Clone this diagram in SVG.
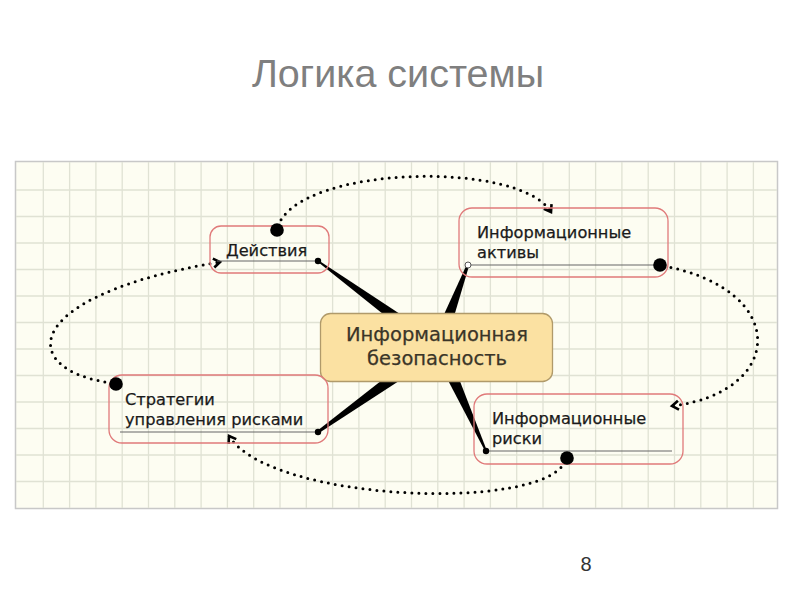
<svg xmlns="http://www.w3.org/2000/svg" width="800" height="600" viewBox="0 0 800 600">
<defs>
<marker id="arr" viewBox="0 0 12 12" refX="9" refY="6" markerWidth="12" markerHeight="12" markerUnits="userSpaceOnUse" orient="auto">
<path d="M2.5 1.5L9 6L2.5 10.5" fill="none" stroke="#000" stroke-width="2.6" stroke-linejoin="miter"/>
</marker>
<style>
.title{font-family:"Liberation Sans",Arial,sans-serif;font-size:39.5px;fill:#7f7f7f}
.num{font-family:"Liberation Sans",Arial,sans-serif;font-size:20px;fill:#333}
.grid{fill:none;stroke:#e0e2d4;stroke-width:1.3}
.node rect.box{fill:none;stroke:#e07a7a;stroke-width:1.3}
.lbl{font-family:"DejaVu Sans","Noto Sans",sans-serif;font-size:16.2px;fill:#1a1a1a;stroke:#1a1a1a;stroke-width:0.25}
.clbl{font-family:"DejaVu Sans","Noto Sans",sans-serif;font-size:19.5px;fill:#3a3528;stroke:#3a3528;stroke-width:0.25;text-anchor:middle}
.ul{stroke:#666;stroke-width:1.2}
.dot{fill:#000}
.big{fill:#000}
.flow{fill:none;stroke:#000;stroke-width:3;stroke-dasharray:0 7;stroke-linecap:round}
.spoke{fill:#000}
</style>
</defs>
<rect width="800" height="600" fill="#fff"/>
<text class="title" x="398" y="87" text-anchor="middle">Логика системы</text>
<rect x="15.5" y="161.5" width="762" height="347" fill="#fdfdf2" stroke="#c8c8c8" stroke-width="1.5"/>
<path class="grid" d="M43.3 162V508M69.6 162V508M95.9 162V508M122.2 162V508M148.5 162V508M174.8 162V508M201.1 162V508M227.4 162V508M253.7 162V508M280 162V508M306.3 162V508M332.6 162V508M358.9 162V508M385.2 162V508M411.5 162V508M437.8 162V508M464.1 162V508M490.4 162V508M516.7 162V508M543 162V508M569.3 162V508M595.6 162V508M621.9 162V508M648.2 162V508M674.5 162V508M700.8 162V508M727.1 162V508M753.4 162V508M16 190H777M16 216.5H777M16 243H777M16 269.5H777M16 296H777M16 322.5H777M16 349H777M16 375.5H777M16 402H777M16 428.5H777M16 455H777M16 481.5H777"/>

<g id="connectors">
<polygon class="spoke" points="318,260 318,262 433,354 441,341"/>
<polygon class="spoke" points="467,264 469,266 444,350 430,345"/>
<polygon class="spoke" points="317,431 319,433 442,353 432,341"/>
<polygon class="spoke" points="485,451 487,451 444,340 430,346"/>
<path class="flow" d="M278,226 C300,165 520,160 551,212" marker-end="url(#arr)"/>
<path class="flow" d="M664,266 C790,290 785,392 672,406" marker-end="url(#arr)"/>
<path class="flow" d="M565,462 C540,512 270,502 229,436" marker-end="url(#arr)"/>
<path class="flow" d="M112,383 C15,370 20,295 220,262" marker-end="url(#arr)"/>
</g>

<g id="center" class="node">
<rect x="320.5" y="313.5" width="232" height="68" rx="10" fill="#fbe1a2" stroke="#b09a6a" stroke-width="1.3"/>
<text class="clbl" x="437" y="341">Информационная</text>
<text class="clbl" x="437" y="365">безопасность</text>
</g>

<g id="deystviya" class="node">
<rect class="box" x="210" y="226" width="119" height="47" rx="11"/>
<text class="lbl" x="226" y="256">Действия</text>
<line class="ul" x1="217" y1="261" x2="318" y2="261"/>
<circle class="dot" cx="318" cy="261" r="3.2"/>
<circle class="big" cx="277" cy="230" r="6.8"/>
</g>

<g id="aktivy" class="node">
<rect class="box" x="459" y="208" width="209" height="69" rx="13"/>
<text class="lbl" x="477" y="238">Информационные</text>
<text class="lbl" x="477" y="258">активы</text>
<line class="ul" x1="468" y1="265" x2="660" y2="265"/>
<circle cx="468" cy="265" r="3" fill="#fff" stroke="#555" stroke-width="1"/>
<circle class="big" cx="660" cy="265" r="6.8"/>
</g>

<g id="strategii" class="node">
<rect class="box" x="109" y="375" width="219" height="68" rx="13"/>
<text class="lbl" x="125" y="405">Стратегии</text>
<text class="lbl" x="125" y="425">управления рисками</text>
<line class="ul" x1="120" y1="432" x2="318" y2="432"/>
<circle class="dot" cx="318" cy="432" r="3.2"/>
<circle class="big" cx="116" cy="384" r="6.8"/>
</g>

<g id="riski" class="node">
<rect class="box" x="474" y="394" width="209" height="70" rx="13"/>
<text class="lbl" x="492" y="424">Информационные</text>
<text class="lbl" x="492" y="444">риски</text>
<line class="ul" x1="486" y1="451" x2="672" y2="451"/>
<circle class="dot" cx="486" cy="451" r="3.2"/>
<circle class="big" cx="567" cy="458" r="6.8"/>
</g>

<text class="num" x="586" y="571" text-anchor="middle">8</text>
</svg>
